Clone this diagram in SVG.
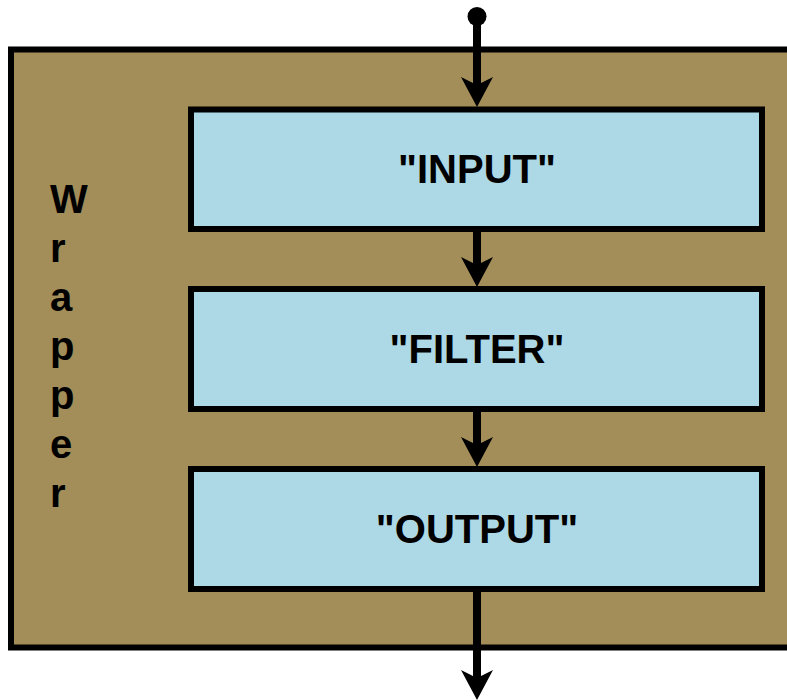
<svg xmlns="http://www.w3.org/2000/svg" width="787" height="700" viewBox="0 0 787 700">
  <style>
    .wrap { fill: #a38d58; stroke: #000; stroke-width: 6; }
    .box { fill: #add8e6; stroke: #000; stroke-width: 6; }
    .label { font-family: "Liberation Sans", Arial, sans-serif; font-weight: bold; font-size: 40px; fill: #000; }
    .shaft { stroke: #000; stroke-width: 8; fill: none; }
  </style>
  <defs>
    <!-- swept arrowhead, tip at origin pointing down -->
    <path id="head" d="M0,0 L-16,-30 L-4,-24 L4,-24 L16,-30 Z" fill="#000"/>
  </defs>
  <rect width="787" height="700" fill="#fff"/>

  <g id="wrapper">
    <rect class="wrap" x="11" y="49.5" width="800" height="598"/>
    <text class="label" x="50">
      <tspan x="50" y="213">W</tspan>
      <tspan x="50" y="262">r</tspan>
      <tspan x="50" y="311">a</tspan>
      <tspan x="50" y="360">p</tspan>
      <tspan x="50" y="409">p</tspan>
      <tspan x="50" y="458">e</tspan>
      <tspan x="50" y="507">r</tspan>
    </text>
  </g>

  <g id="input">
    <rect class="box" x="191" y="109.5" width="571" height="119.5"/>
    <text class="label" x="477" y="183" text-anchor="middle">"INPUT"</text>
  </g>
  <g id="filter">
    <rect class="box" x="191" y="289" width="571" height="120"/>
    <text class="label" x="477" y="363" text-anchor="middle">"FILTER"</text>
  </g>
  <g id="output">
    <rect class="box" x="191" y="469" width="571" height="120"/>
    <text class="label" x="477" y="543" text-anchor="middle">"OUTPUT"</text>
  </g>

  <g id="connectors">
    <circle cx="477" cy="16.5" r="9.5" fill="#000"/>
    <line class="shaft" x1="477" y1="16" x2="477" y2="90"/>
    <use href="#head" x="477" y="107"/>
    <line class="shaft" x1="477" y1="232" x2="477" y2="270"/>
    <use href="#head" x="477" y="287"/>
    <line class="shaft" x1="477" y1="412" x2="477" y2="450"/>
    <use href="#head" x="477" y="467"/>
    <line class="shaft" x1="477" y1="592" x2="477" y2="680"/>
    <use href="#head" x="477" y="700"/>
  </g>
</svg>
